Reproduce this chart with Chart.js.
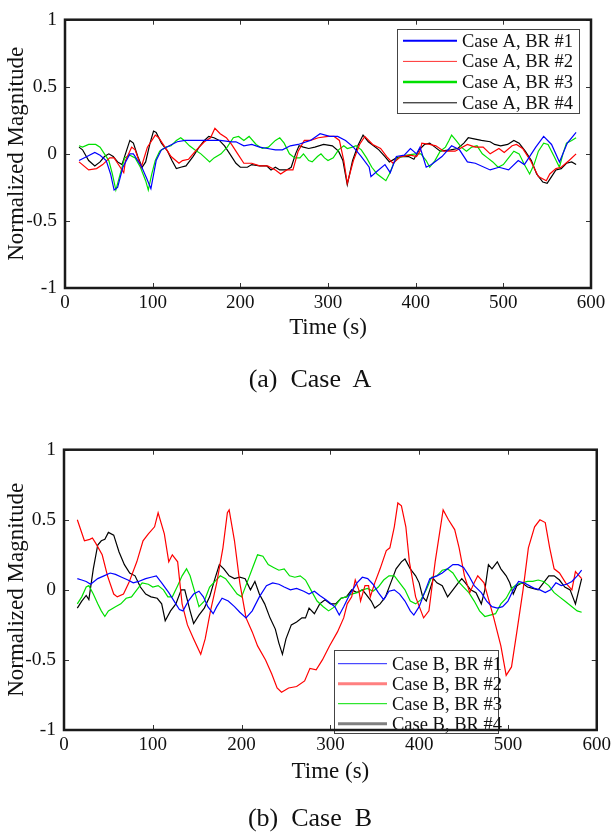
<!DOCTYPE html>
<html><head><meta charset="utf-8">
<script src="https://cdn.jsdelivr.net/npm/chart.js@4/dist/chart.umd.min.js"></script>
<style>
html,body{margin:0;padding:0;background:#fff;}
body{width:615px;height:833px;position:relative;overflow:hidden;font-family:"Liberation Serif","Times New Roman",serif;}
.wrap{position:absolute;left:0;width:615px;}
#wa{top:0;height:400px;}
#wb{top:430px;height:403px;}
.cap{position:absolute;left:0;width:620px;text-align:center;font-size:26px;line-height:30px;color:#111;white-space:pre;}
</style></head><body>
<div class="wrap" id="wa"><canvas id="ca"></canvas></div>
<div class="wrap" id="wb"><canvas id="cb"></canvas></div>
<div class="cap" style="top:364px">(a)  Case  A</div>
<div class="cap" style="top:803px">(b)  Case  B</div>
<script>
// ---------- Case A ----------
const labelsA = ["Case A, BR #1","Case A, BR #2","Case A, BR #3","Case A, BR #4"];
const tA1=[16,25,34,40,47,52,56,60,66,74,78,87,93,98,104,110,119,128,137,150,165,177,190,195,204,213,222,231,240,248,257,266,280,291,302,311,320,329,338,347,349,356,365,371,378,387,394,401,405,412,418,430,441,450,459,468,485,495,506,517,524,537,546,555,564,573,583];
const vA1=[-0.05,-0.02,0.01,-0.01,-0.05,-0.15,-0.27,-0.25,-0.1,0.0,0.0,-0.09,-0.18,-0.26,-0.05,0.03,0.06,0.09,0.1,0.1,0.1,0.1,0.09,0.09,0.06,0.07,0.05,0.04,0.03,0.03,0.06,0.07,0.1,0.15,0.13,0.13,0.1,0.05,-0.02,-0.1,-0.17,-0.13,-0.08,-0.14,-0.02,-0.01,0.04,0.0,0.05,-0.1,-0.08,-0.02,0.06,0.03,-0.06,-0.07,-0.12,-0.1,-0.12,-0.05,-0.08,0.05,0.13,0.07,-0.06,0.08,0.16];
const tA2=[16,27,36,43,51,56,60,67,69,76,80,87,94,103,107,114,121,130,134,141,150,159,166,171,177,184,190,197,204,213,222,231,240,246,253,260,266,273,280,289,300,307,313,318,322,329,336,342,351,360,367,374,383,394,401,405,407,416,423,432,445,459,468,477,485,495,501,510,515,522,531,540,549,553,560,566,575,583];
const vA2=[-0.06,-0.12,-0.11,-0.08,-0.03,-0.03,-0.07,-0.14,-0.05,0.05,0.03,-0.1,0.05,0.14,0.12,0.05,-0.02,-0.07,-0.05,-0.04,0.03,0.09,0.12,0.19,0.15,0.12,0.07,0.0,-0.07,-0.07,-0.09,-0.09,-0.12,-0.15,-0.12,-0.12,0.02,0.1,0.1,0.12,0.13,0.13,0.1,-0.05,-0.22,-0.05,0.07,0.13,0.07,0.04,-0.02,-0.07,-0.02,-0.01,-0.02,0.02,0.08,0.07,0.06,0.02,0.02,0.07,0.05,0.05,0.0,0.04,0.01,0.06,0.07,0.04,-0.05,-0.17,-0.2,-0.15,-0.11,-0.1,-0.05,0.0];
const tA3=[16,20,27,35,40,45,50,54,58,63,68,74,80,86,92,95,99,103,108,115,121,127,132,136,142,148,155,160,165,170,178,185,192,198,204,210,218,225,232,240,245,250,256,262,268,272,278,282,288,292,296,300,306,312,318,322,328,332,338,344,350,356,362,366,370,375,380,390,400,406,412,416,422,428,434,438,441,446,452,458,464,470,476,482,488,494,500,506,512,518,524,530,535,540,546,551,558,564,568,572,578,583];
const vA3=[0.06,0.05,0.07,0.07,0.05,0.0,-0.05,-0.15,-0.27,-0.15,-0.03,-0.01,-0.03,-0.1,-0.2,-0.27,-0.15,-0.05,0.02,0.05,0.06,0.1,0.12,0.1,0.06,0.03,0.0,-0.03,-0.06,-0.03,0.0,0.05,0.12,0.13,0.1,0.13,0.07,0.04,0.05,0.1,0.12,0.08,0.0,-0.03,-0.03,0.0,-0.05,-0.06,-0.02,0.0,-0.03,-0.05,-0.03,0.03,0.06,0.04,0.05,0.06,0.03,-0.03,-0.1,-0.15,-0.18,-0.2,-0.15,-0.07,-0.03,-0.01,0.0,0.0,-0.05,-0.1,-0.05,0.02,0.05,0.1,0.14,0.1,0.05,0.02,0.05,0.06,0.0,-0.03,-0.06,-0.1,-0.08,-0.03,0.02,0.0,-0.08,-0.15,-0.08,0.02,0.08,0.07,-0.02,-0.1,0.0,0.08,0.1,0.12];
const tA4=[16,20,27,34,40,45,50,55,60,65,70,74,78,83,88,92,97,101,104,110,117,122,127,132,138,146,153,159,164,170,176,182,188,195,200,208,213,222,230,235,240,245,253,258,263,267,272,278,285,295,305,312,317,322,328,334,340,346,352,358,365,370,378,384,392,398,404,410,416,422,428,440,448,455,460,468,475,485,490,497,505,512,518,525,532,538,545,550,555,560,566,572,578,583];
const vA4=[0.05,0.03,-0.05,-0.09,-0.06,-0.02,0.0,-0.02,-0.06,-0.08,0.02,0.1,0.08,-0.02,-0.1,-0.06,0.08,0.17,0.16,0.08,0.02,-0.05,-0.11,-0.1,-0.09,-0.02,0.05,0.1,0.13,0.12,0.1,0.06,0.0,-0.07,-0.1,-0.1,-0.08,-0.09,-0.09,-0.12,-0.1,-0.12,-0.12,-0.1,0.0,0.06,0.05,0.04,0.05,0.07,0.06,0.02,-0.05,-0.23,-0.05,0.06,0.14,0.09,0.06,0.03,-0.02,-0.06,-0.03,-0.02,-0.02,-0.04,0.03,0.07,0.08,0.05,0.02,0.03,0.04,0.08,0.12,0.11,0.1,0.09,0.07,0.06,0.07,0.1,0.08,0.02,-0.05,-0.15,-0.21,-0.22,-0.17,-0.12,-0.11,-0.07,-0.06,-0.08];

// ---------- Case B ----------
const labelsB = ["Case B, BR #1","Case B, BR #2","Case B, BR #3","Case B, BR #4"];
const tB1=[15,20,25,30,38,45,52,58,65,72,78,84,92,98,104,110,118,124,130,134,140,146,152,157,162,168,172,178,185,192,198,205,212,220,228,235,242,248,255,262,270,276,282,288,295,305,310,315,322,330,336,342,348,354,360,366,372,378,384,390,394,400,406,412,420,426,432,438,444,450,456,462,470,476,482,488,494,500,506,512,518,524,530,536,542,548,554,560,566,572,578,583];
const vB1=[0.08,0.07,0.06,0.04,0.08,0.1,0.12,0.11,0.09,0.07,0.05,0.06,0.08,0.09,0.1,0.05,-0.02,-0.08,-0.14,-0.15,-0.08,-0.03,-0.01,-0.05,-0.12,-0.17,-0.12,-0.06,-0.08,-0.12,-0.16,-0.2,-0.15,-0.05,0.03,0.05,0.04,0.02,0.0,0.01,-0.01,-0.03,-0.01,-0.04,-0.07,-0.12,-0.18,-0.12,-0.03,0.05,0.09,0.08,0.04,-0.02,-0.07,-0.01,0.0,-0.03,-0.08,-0.15,-0.18,-0.12,-0.02,0.08,0.1,0.12,0.15,0.18,0.18,0.16,0.1,0.03,-0.02,-0.08,-0.12,-0.13,-0.12,-0.08,0.0,0.06,0.05,0.03,0.01,0.0,-0.02,0.0,0.05,0.03,0.04,0.06,0.1,0.14];
const tB2=[15,23,29,32,36,43,49,56,60,67,73,82,89,95,102,106,113,118,122,128,133,139,146,154,159,165,172,179,184,186,192,198,205,212,218,227,234,240,245,253,262,271,277,284,291,299,308,315,319,324,328,332,334,339,343,345,350,356,363,367,372,376,380,385,389,396,405,411,418,427,433,440,445,451,457,462,466,473,484,492,498,504,510,517,523,530,536,542,547,552,558,565,572,576,583];
const vB2=[0.5,0.35,0.36,0.37,0.33,0.25,0.1,-0.03,-0.05,-0.03,0.05,0.2,0.35,0.4,0.45,0.55,0.4,0.2,0.25,0.2,-0.1,-0.25,-0.35,-0.46,-0.35,-0.15,0.05,0.3,0.55,0.57,0.35,0.05,-0.2,-0.3,-0.4,-0.5,-0.6,-0.7,-0.73,-0.7,-0.69,-0.65,-0.56,-0.57,-0.5,-0.4,-0.3,-0.2,-0.1,-0.05,0.07,0.0,-0.08,0.03,0.03,-0.05,0.05,0.15,0.28,0.3,0.45,0.62,0.6,0.45,0.2,-0.05,-0.2,-0.15,0.2,0.57,0.5,0.43,0.3,0.1,-0.02,0.05,0.1,0.05,-0.2,-0.4,-0.61,-0.55,-0.3,0.0,0.3,0.45,0.5,0.48,0.3,0.15,0.12,0.05,0.0,0.13,0.08];
const tB3=[15,20,25,28,33,38,42,46,50,58,64,70,76,82,88,95,100,106,112,117,122,128,133,138,142,148,152,158,164,170,176,182,188,195,200,206,212,218,224,230,236,242,248,254,260,266,272,278,285,292,298,305,312,318,324,330,336,342,348,354,360,366,372,378,384,390,396,402,408,414,420,426,432,438,444,450,456,462,468,474,480,486,492,498,504,510,516,522,528,534,540,546,552,558,564,570,578,583];
const vB3=[-0.1,-0.05,0.02,0.03,-0.03,-0.1,-0.15,-0.19,-0.15,-0.12,-0.1,-0.06,-0.05,0.0,0.05,0.04,0.02,0.03,0.0,-0.05,-0.05,0.03,0.1,0.15,0.1,-0.03,-0.12,-0.08,0.02,0.06,0.1,0.08,0.03,-0.03,-0.05,0.05,0.15,0.25,0.24,0.18,0.16,0.14,0.15,0.1,0.09,0.1,0.07,0.0,-0.08,-0.12,-0.15,-0.12,-0.06,-0.05,-0.03,-0.02,0.0,0.01,-0.01,0.02,0.07,0.1,0.1,0.05,0.0,-0.08,-0.1,-0.07,0.0,0.09,0.1,0.14,0.15,0.12,0.06,0.02,-0.02,-0.08,-0.15,-0.19,-0.18,-0.17,-0.1,-0.06,0.01,0.04,0.05,0.06,0.06,0.07,0.06,0.03,-0.02,-0.05,-0.08,-0.11,-0.15,-0.16];
const tB4=[15,20,25,28,33,38,42,46,50,56,62,68,74,80,86,92,98,105,110,114,120,126,132,136,142,146,152,158,164,170,175,180,186,192,198,204,210,215,220,226,232,238,242,246,250,256,262,268,272,276,282,288,294,300,306,312,318,324,330,336,340,346,350,356,362,368,374,380,384,390,396,400,404,408,412,416,420,426,432,438,444,448,452,458,464,470,474,478,482,488,492,498,502,506,510,516,522,528,534,540,546,552,558,564,570,576,583];
const vB4=[-0.13,-0.08,-0.04,-0.07,0.15,0.32,0.35,0.36,0.41,0.39,0.27,0.18,0.12,0.1,0.02,-0.03,-0.05,-0.06,-0.1,-0.22,-0.15,-0.1,0.0,0.0,-0.15,-0.24,-0.18,-0.13,-0.05,0.08,0.18,0.15,0.1,0.08,0.09,0.08,0.0,0.06,-0.03,-0.1,-0.2,-0.28,-0.38,-0.46,-0.35,-0.25,-0.23,-0.2,-0.2,-0.13,-0.17,-0.1,-0.07,-0.1,-0.1,-0.06,-0.05,0.0,-0.02,0.0,-0.03,-0.08,-0.13,-0.1,-0.05,0.05,0.15,0.2,0.22,0.15,0.1,0.05,-0.05,-0.08,0.0,0.08,0.05,0.03,-0.05,0.0,0.05,0.08,0.05,0.0,-0.02,-0.1,0.0,0.18,0.15,0.2,0.15,0.1,0.05,-0.03,0.03,0.05,0.02,0.01,0.0,0.05,0.1,0.1,0.07,0.02,0.0,-0.1,0.08];

const lineColors = ["#0000ff","#ff0000","#00e000","#000000"];
const SERIF = '"Liberation Serif","Times New Roman",serif';

function pts(t, v){ const n=Math.min(t.length,v.length); const o=[]; for(let i=0;i<n;i++) o.push({x:t[i],y:v[i]}); return o; }

const framePlugin = {
  id:'frameLegend',
  afterDraw(chart, args, o){
    const {ctx, chartArea:a, scales} = chart;
    ctx.save();
    ctx.strokeStyle='#333'; ctx.lineWidth=1;
    ctx.beginPath();
    scales.x.ticks.forEach(tk=>{
      const px=Math.round(scales.x.getPixelForValue(tk.value))+0.5;
      ctx.moveTo(px,a.top); ctx.lineTo(px,a.top+5);
      ctx.moveTo(px,a.bottom); ctx.lineTo(px,a.bottom-5);
    });
    scales.y.ticks.forEach(tk=>{
      const py=Math.round(scales.y.getPixelForValue(tk.value))+0.5;
      ctx.moveTo(a.left,py); ctx.lineTo(a.left+5,py);
      ctx.moveTo(a.right,py); ctx.lineTo(a.right-5,py);
    });
    ctx.stroke();
    const L=o.legend;
    const bx=a.left+L.dx, by=a.top+L.dy;
    ctx.fillStyle='#fff';
    ctx.fillRect(bx,by,L.w,L.h);
    ctx.strokeStyle='#444'; ctx.lineWidth=1;
    ctx.strokeRect(Math.round(bx)+0.5,Math.round(by)+0.5,L.w,L.h);
    ctx.font=L.font+'px '+SERIF;
    ctx.textBaseline='middle'; ctx.textAlign='left';
    chart.data.datasets.forEach((ds,i)=>{
      const y=by+L.first+i*L.row;
      ctx.strokeStyle=L.sampleColors[i]; ctx.lineWidth=L.sampleWidths[i];
      ctx.beginPath(); ctx.moveTo(bx+L.s0,y); ctx.lineTo(bx+L.s1,y); ctx.stroke();
      ctx.fillStyle='#111';
      ctx.fillText(ds.label,bx+L.tx,y+1);
    });
    ctx.strokeStyle='#1a1a1a'; ctx.lineWidth=2.5;
    ctx.strokeRect(a.left,a.top,a.right-a.left,a.bottom-a.top);
    ctx.restore();
  }
};

function makeChart(id, labels, series, cfg){
  return new Chart(document.getElementById(id),{
    type:'line',
    data:{datasets: series.map((s,i)=>({
      label:labels[i], data:pts(s[0],s[1]),
      borderColor:lineColors[i], borderWidth:1.2,
      pointRadius:0, tension:0, fill:false
    }))},
    options:{
      responsive:true, maintainAspectRatio:false, animation:false,
      layout:{padding:{left:0,right:cfg.padRight,top:cfg.padTop,bottom:cfg.padBottom}},
      plugins:{legend:{display:false}, tooltip:{enabled:false},
        frameLegend:{legend:cfg.legend}},
      scales:{
        x:{type:'linear',min:0,max:600,
          ticks:{stepSize:100,color:'#111',padding:4,maxRotation:0,font:{family:SERIF,size:19},callback:v=>String(v)},
          grid:{display:false,drawTicks:false}, border:{display:false},
          title:{display:true,text:'Time (s)',color:'#111',font:{family:SERIF,size:23},padding:{top:0,bottom:cfg.xTitlePad}},
          afterFit(s){ s.height=60; }
        },
        y:{type:'linear',min:-1,max:1,
          ticks:{stepSize:0.5,color:'#111',padding:8,font:{family:SERIF,size:19.5},callback:v=>String(v)},
          grid:{display:false,drawTicks:false}, border:{display:false},
          title:{display:true,text:'Normalized Magnitude',color:'#111',font:{family:SERIF,size:23},padding:{top:3,bottom:0}},
          afterFit(s){ s.width=cfg.yWidth; }
        }
      }
    },
    plugins:[framePlugin]
  });
}

makeChart('ca', labelsA, [[tA1,vA1],[tA2,vA2],[tA3,vA3],[tA4,vA4]], {
  padRight:24, padTop:12, padBottom:52, yWidth:65, xTitlePad:6,
  legend:{dx:332,dy:9,w:182,h:84,first:12,row:20.7,s0:6,s1:60,tx:65,font:18.5,
    sampleColors:["#0000ff","#ff3030","#00e000","#000000"],sampleWidths:[2,1,2.5,1]}
});
makeChart('cb', labelsB, [[tB1,vB1],[tB2,vB2],[tB3,vB3],[tB4,vB4]], {
  padRight:16, padTop:12, padBottom:43, yWidth:64, xTitlePad:4,
  legend:{dx:270,dy:200,w:164,h:83,first:14,row:20,s0:4,s1:53,tx:58,font:18.5,
    sampleColors:["#2020ff","#ff8080","#00e000","#808080"],sampleWidths:[1,3,1,3]}
});
</script>
</body></html>
